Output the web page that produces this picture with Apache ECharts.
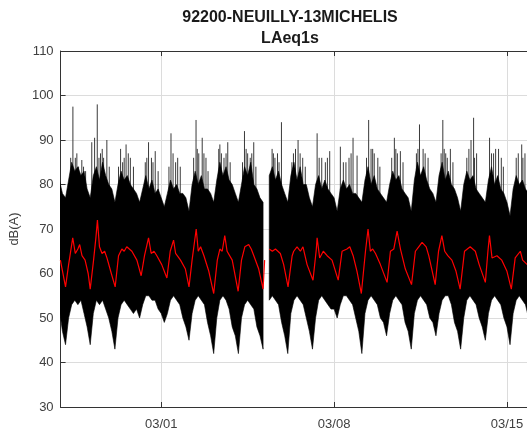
<!DOCTYPE html>
<html>
<head>
<meta charset="utf-8">
<script src="https://cdn.jsdelivr.net/npm/echarts@6/dist/echarts.min.js"></script>
<style>
  html, body { margin: 0; padding: 0; overflow: hidden; background: #fff; }
  #chart { width: 560px; height: 436px; }
</style>
</head>
<body>
<div id="chart"></div>
<script>
// ---- labels ----
const titleMain = '92200-NEUILLY-13MICHELIS';
const titleSub = 'LAeq1s';
const yAxisName = 'dB(A)';
const year = 2015;
const dateTicks = ['03-01 00:00', '03-08 00:00', '03-15 00:00'];
const viewStart = '02-24 22:12';
const viewEnd = '03-16 12:00';
const levelMin = 30, levelMax = 110, levelStep = 10;

// ---- 1 s levels, summarised as a 3-hour envelope (dB(A)) ----
// first sample 02-24 21:00, one value every 3 h; null = recorder gap
const envelopeStart = '02-24 21:00';
const envelopeStepHours = 3;
const envelopeTop = [
  81,
  78, 77, 81, 85, 83, 84, 82, 83,
  79, 77, 82, 84, 81, 85, 82, 80,
  79, 76, 80, 83, 81, 82, 80, 79,
  78, 76, 79, 82, 79, 81, 78, 79,
  77, 75, 78, 81, 79, 80, 78, 78,
  77, 74, 80, 83, 80, 82, 79, 79,
  78, 76, 81, 85, 82, 84, 81, 80,
  78, 76, 80, 84, 82, 85, 80, 79,
  77, 76, null, 82, 84, 81, 83, 80,
  78, 76, 82, 85, 81, 84, 80, 80,
  77, 75, 80, 82, 79, 81, 79, 78,
  77, 74, 79, 81, 79, 80, 78, 78,
  77, 76, 81, 84, 80, 82, 79, 78,
  77, 76, 80, 83, 81, 82, 79, 78,
  77, 74, 81, 85, 82, 84, 81, 79,
  78, 76, 82, 85, 81, 83, 80, 79,
  77, 74, 80, 83, 81, 82, 79, 78,
  77, 76, 81, 84, 80, 82, 79, 78,
  76, 73, 79, 82, 80, 81, 79, 78,
  77, 75, 79, 82, 80
];
const envelopeBottom = [
  52,
  47, 44, 50, 53, 54, 53, 54, 51,
  48, 44, 51, 54, 53, 54, 52, 50,
  47, 43, 50, 53, 54, 53, 52, 51,
  52, 50, 53, 55, 55, 54, 54, 52,
  51, 49, 51, 54, 55, 54, 53, 50,
  48, 45, 51, 54, 55, 54, 53, 49,
  46, 42, 50, 54, 55, 54, 52, 48,
  46, 42, 50, 53, 54, 53, 52, 48,
  46, 43, null, 54, 55, 54, 53, 49,
  46, 42, 51, 54, 55, 54, 53, 50,
  47, 43, 50, 54, 55, 54, 53, 52,
  52, 50, 53, 55, 55, 54, 53, 50,
  47, 42, 51, 54, 55, 54, 53, 50,
  49, 46, 51, 54, 55, 54, 53, 49,
  47, 43, 51, 54, 55, 54, 53, 50,
  49, 46, 51, 54, 55, 55, 53, 49,
  47, 43, 50, 54, 55, 54, 53, 50,
  48, 45, 51, 54, 55, 54, 53, 50,
  48, 44, 51, 54, 55, 54, 53, 50,
  48, 45, 51, 54, 55
];

// ---- isolated loud events above the envelope: [time, peak dB(A)] ----
const peaks = [
  ['02-25 08:00', 86], ['02-25 10:10', 97.5], ['02-25 12:30', 86], ['02-25 14:00', 87], ['02-25 15:40', 84],
  ['02-25 18:50', 85.5], ['02-25 20:30', 84], ['02-25 22:30', 83],
  ['02-26 04:30', 89.5], ['02-26 07:15', 90.5], ['02-26 09:50', 98], ['02-26 11:30', 86], ['02-26 13:00', 87],
  ['02-26 14:40', 88], ['02-26 16:00', 86], ['02-26 19:10', 90], ['02-26 21:30', 84],
  ['02-27 06:30', 84], ['02-27 08:30', 88], ['02-27 10:30', 85], ['02-27 12:00', 86], ['02-27 13:50', 89],
  ['02-27 16:00', 87], ['02-27 18:00', 86], ['02-27 21:00', 84],
  ['02-28 08:30', 85], ['02-28 10:00', 86], ['02-28 11:40', 89.5], ['02-28 14:30', 86], ['02-28 16:00', 85],
  ['02-28 18:10', 87.5], ['02-28 21:00', 83],
  ['03-01 07:30', 84], ['03-01 09:30', 91.5], ['03-01 11:30', 87], ['03-01 14:00', 85], ['03-01 16:00', 86], ['03-01 18:30', 84],
  ['03-02 07:30', 86], ['03-02 09:50', 94.5], ['03-02 11:00', 88], ['03-02 12:30', 87], ['03-02 15:50', 90.5],
  ['03-02 17:30', 87], ['03-02 19:30', 86], ['03-02 21:30', 83],
  ['03-03 07:55', 88], ['03-03 09:00', 89], ['03-03 10:30', 87], ['03-03 13:00', 86], ['03-03 15:00', 87],
  ['03-03 16:40', 89.5], ['03-03 19:00', 85],
  ['03-04 07:00', 85], ['03-04 08:55', 92], ['03-04 10:30', 88], ['03-04 12:00', 87], ['03-04 14:30', 86],
  ['03-04 16:00', 87], ['03-04 17:55', 89.5], ['03-04 20:00', 84],
  ['03-05 11:45', 88], ['03-05 13:00', 87], ['03-05 14:30', 86], ['03-05 17:00', 87], ['03-05 18:30', 85], ['03-05 20:50', 94],
  ['03-06 07:00', 85], ['03-06 08:30', 87], ['03-06 10:30', 88], ['03-06 13:00', 90], ['03-06 15:00', 87],
  ['03-06 17:30', 86], ['03-06 20:00', 84],
  ['03-07 07:30', 91.5], ['03-07 09:30', 86], ['03-07 12:00', 86], ['03-07 15:30', 85], ['03-07 17:30', 86], ['03-07 19:45', 87.5],
  ['03-08 06:05', 88.5], ['03-08 09:00', 85], ['03-08 11:30', 85], ['03-08 14:30', 86], ['03-08 16:30', 87],
  ['03-08 18:25', 90.5], ['03-08 22:20', 86.5],
  ['03-09 07:30', 86], ['03-09 09:35', 94.5], ['03-09 11:55', 88], ['03-09 13:30', 88], ['03-09 15:00', 87],
  ['03-09 18:30', 86], ['03-09 20:30', 84],
  ['03-10 08:00', 86], ['03-10 10:35', 90.5], ['03-10 12:00', 88], ['03-10 13:30', 87], ['03-10 16:25', 87.5], ['03-10 19:00', 85],
  ['03-11 08:00', 87], ['03-11 09:30', 88], ['03-11 11:00', 93.5], ['03-11 14:30', 88], ['03-11 16:30', 87], ['03-11 19:20', 86],
  ['03-12 08:00', 87], ['03-12 09:40', 94.5], ['03-12 11:00', 88], ['03-12 12:30', 87], ['03-12 14:00', 86],
  ['03-12 17:00', 88], ['03-12 19:30', 85],
  ['03-13 09:00', 86], ['03-13 11:00', 88], ['03-13 13:05', 90], ['03-13 15:35', 95], ['03-13 16:30', 86], ['03-13 18:30', 87],
  ['03-14 07:05', 90.5], ['03-14 09:00', 87], ['03-14 11:00', 87], ['03-14 13:00', 88], ['03-14 15:50', 88],
  ['03-14 18:30', 86], ['03-14 20:30', 84],
  ['03-15 09:00', 86], ['03-15 11:00', 87], ['03-15 14:20', 89], ['03-15 15:30', 86], ['03-15 17:30', 87]
];

// ---- smoothed level (red trace): [time, dB(A)], null = recorder gap ----
const smoothedLevel = [
  ['02-24 22:00', 63], ['02-25 03:00', 57], ['02-25 06:00', 62], ['02-25 10:00', 68], ['02-25 12:30', 64.5],
  ['02-25 15:00', 65.5], ['02-25 16:45', 66.5], ['02-25 19:00', 64], ['02-25 22:00', 63],
  ['02-26 01:00', 60], ['02-26 03:00', 56.5], ['02-26 06:15', 63], ['02-26 08:30', 68], ['02-26 10:00', 72],
  ['02-26 12:00', 66], ['02-26 14:30', 64.5], ['02-26 17:00', 65], ['02-26 19:15', 63.5], ['02-26 23:30', 60],
  ['02-27 03:15', 57], ['02-27 06:30', 64], ['02-27 09:45', 65.5], ['02-27 12:00', 65], ['02-27 14:30', 66],
  ['02-27 19:30', 65], ['02-28 00:20', 63], ['02-28 04:30', 59.5], ['02-28 07:45', 64], ['02-28 11:40', 68],
  ['02-28 14:15', 64.5], ['02-28 17:00', 65], ['02-28 19:45', 64], ['03-01 00:30', 62], ['03-01 05:30', 59],
  ['03-01 08:45', 65], ['03-01 12:00', 67.5], ['03-01 14:00', 64.5], ['03-01 18:45', 63], ['03-01 23:30', 61],
  ['03-02 03:00', 57], ['03-02 06:00', 63], ['03-02 10:00', 70], ['03-02 12:00', 65], ['03-02 14:15', 66],
  ['03-02 17:30', 64], ['03-02 22:15', 60.5], ['03-03 03:00', 55.5], ['03-03 06:30', 63], ['03-03 09:00', 65.5],
  ['03-03 11:15', 65], ['03-03 13:45', 68.5], ['03-03 16:00', 65], ['03-03 21:00', 63],
  ['03-04 02:45', 56], ['03-04 06:00', 63], ['03-04 09:15', 66], ['03-04 13:00', 66.5], ['03-04 15:30', 65.5],
  ['03-04 18:00', 64], ['03-04 22:45', 61], ['03-05 03:00', 56.5], ['03-05 04:30', 63], ['03-05 06:00', null],
  ['03-05 09:00', 65.5], ['03-05 12:00', 65], ['03-05 15:00', 65.5], ['03-05 19:45', 64.5], ['03-05 23:00', 62],
  ['03-06 03:15', 57], ['03-06 07:15', 64], ['03-06 08:45', 65], ['03-06 12:00', 66], ['03-06 15:15', 65],
  ['03-06 17:45', 66], ['03-06 21:45', 62], ['03-07 03:30', 58.5], ['03-07 06:45', 65.5], ['03-07 07:30', 68],
  ['03-07 10:00', 63.5], ['03-07 13:30', 65], ['03-07 17:15', 64], ['03-07 22:00', 63],
  ['03-08 04:00', 58.5], ['03-08 07:45', 65], ['03-08 12:30', 65.5], ['03-08 15:15', 66], ['03-08 18:30', 64],
  ['03-08 22:15', 60.5], ['03-09 02:30', 55.5], ['03-09 06:30', 65], ['03-09 09:00', 70], ['03-09 11:15', 65],
  ['03-09 13:30', 65.5], ['03-09 16:15', 64.5], ['03-09 21:00', 62], ['03-10 03:30', 58], ['03-10 06:45', 65],
  ['03-10 10:00', 65.5], ['03-10 13:15', 69.5], ['03-10 16:30', 65.5], ['03-10 21:15', 61],
  ['03-11 03:15', 57.5], ['03-11 07:00', 65], ['03-11 10:15', 66], ['03-11 13:30', 67], ['03-11 17:30', 66],
  ['03-11 20:00', 64], ['03-12 02:15', 57.5], ['03-12 05:30', 65], ['03-12 08:45', 68.5], ['03-12 11:30', 65],
  ['03-12 14:30', 64], ['03-12 18:30', 63], ['03-12 22:30', 60.5], ['03-13 02:30', 56.5], ['03-13 06:45', 65],
  ['03-13 09:30', 65.5], ['03-13 12:15', 66], ['03-13 17:15', 65], ['03-13 21:00', 62],
  ['03-14 03:00', 58], ['03-14 05:30', 65], ['03-14 07:00', 68.5], ['03-14 09:30', 63.5], ['03-14 14:15', 64],
  ['03-14 19:00', 63], ['03-15 00:00', 60.5], ['03-15 04:15', 56.5], ['03-15 08:00', 63.5], ['03-15 13:00', 65],
  ['03-15 15:15', 63], ['03-15 19:45', 62], ['03-16 00:00', 60], ['03-16 03:00', 57]
];

// ---- helpers ----
function toTime(s) {
  const [md, hm] = s.split(' ');
  const [M, D] = md.split('-').map(Number);
  const [h, m] = hm.split(':').map(Number);
  return new Date(year, M - 1, D, h, m).getTime();
}
const pad = n => String(n).padStart(2, '0');
const HOUR = 3600 * 1000;
const envT0 = toTime(envelopeStart);
const envRows = envelopeTop.map((top, i) => [envT0 + i * envelopeStepHours * HOUR, top, envelopeBottom[i]]);
const tickTimes = dateTicks.map(toTime);
const dateLabel = v => { const d = new Date(v); return pad(d.getMonth() + 1) + '/' + pad(d.getDate()); };

const FONT = '"Liberation Sans", Arial, Helvetica, sans-serif';
const AXIS_COLOR = '#333333';
const LABEL_COLOR = '#404040';
const GRID_COLOR = '#dcdcdc';
const SPIKE_FLOOR = 74;

// black band between the envelope bottom and top, split at recorder gaps
function drawEnvelope(params, api) {
  if (params.dataIndex !== 0) return null;
  const children = [];
  let seg = [];
  const flush = () => {
    if (seg.length > 1) {
      const upper = seg.map(r => api.coord([r[0], r[1]]));
      const lower = seg.slice().reverse().map(r => api.coord([r[0], r[2]]));
      children.push({
        type: 'polygon',
        shape: { points: upper.concat(lower) },
        style: { fill: '#000', stroke: '#000', lineWidth: 0.6 }
      });
    }
    seg = [];
  };
  envRows.forEach(r => { if (r[1] == null || r[2] == null) flush(); else seg.push(r); });
  flush();
  return { type: 'group', children };
}

function drawPeak(params, api) {
  const x = api.value(0);
  const a = api.coord([x, SPIKE_FLOOR]);
  const b = api.coord([x, api.value(1)]);
  return {
    type: 'line',
    shape: { x1: a[0], y1: a[1], x2: b[0], y2: b[1] },
    style: { stroke: '#3a3a3a', lineWidth: 1 }
  };
}

const timeAxisBase = {
  type: 'value',
  min: toTime(viewStart),
  max: toTime(viewEnd),
  scale: true,
  axisLine: { show: true, lineStyle: { color: AXIS_COLOR, width: 1 } },
  axisTick: { show: true, inside: true, length: 5, customValues: tickTimes, lineStyle: { color: AXIS_COLOR } }
};

const chart = echarts.init(document.getElementById('chart'), null, { renderer: 'canvas' });
chart.setOption({
  animation: false,
  backgroundColor: '#ffffff',
  textStyle: { fontFamily: FONT },
  title: [
    {
      text: titleMain, left: 290, top: 10, textAlign: 'center', padding: 0,
      textStyle: { fontFamily: FONT, fontSize: 16, fontWeight: 'bold', color: '#1a1a1a' }
    },
    {
      text: titleSub, left: 290, top: 31, textAlign: 'center', padding: 0,
      textStyle: { fontFamily: FONT, fontSize: 16, fontWeight: 'bold', color: '#1a1a1a' }
    }
  ],
  grid: { left: 60, top: 51, right: 16, bottom: 29, containLabel: false },
  xAxis: [
    Object.assign({}, timeAxisBase, {
      position: 'bottom',
      axisLabel: {
        show: true, customValues: tickTimes, margin: 11,
        color: LABEL_COLOR, fontSize: 13, fontFamily: FONT, formatter: dateLabel
      },
      splitLine: { show: true, lineStyle: { color: GRID_COLOR, width: 1 } }
    }),
    Object.assign({}, timeAxisBase, {
      position: 'top',
      axisLabel: { show: false },
      splitLine: { show: false }
    })
  ],
  yAxis: {
    type: 'value',
    min: levelMin,
    max: levelMax,
    interval: levelStep,
    name: yAxisName,
    nameLocation: 'middle',
    nameRotate: 90,
    nameGap: 38,
    nameTextStyle: { color: LABEL_COLOR, fontSize: 13, fontFamily: FONT },
    axisLine: { show: true, lineStyle: { color: AXIS_COLOR, width: 1 } },
    axisTick: { show: true, inside: true, length: 5, lineStyle: { color: AXIS_COLOR } },
    axisLabel: { color: LABEL_COLOR, fontSize: 13, fontFamily: FONT, margin: 7 },
    splitLine: { show: true, lineStyle: { color: GRID_COLOR, width: 1 } }
  },
  series: [
    {
      name: 'LAeq1s peaks',
      type: 'custom',
      renderItem: drawPeak,
      data: peaks.map(p => [toTime(p[0]), p[1]]),
      encode: { x: 0, y: 1 },
      clip: true,
      silent: true,
      z: 2
    },
    {
      name: 'LAeq1s envelope',
      type: 'custom',
      renderItem: drawEnvelope,
      data: envRows,
      encode: { x: 0, y: [1, 2] },
      clip: true,
      silent: true,
      z: 3
    },
    {
      name: 'Smoothed',
      type: 'line',
      data: smoothedLevel.map(p => [toTime(p[0]), p[1]]),
      showSymbol: false,
      connectNulls: false,
      clip: true,
      lineStyle: { color: '#ff0000', width: 1.2 },
      silent: true,
      z: 4
    }
  ]
});
</script>
</body>
</html>
